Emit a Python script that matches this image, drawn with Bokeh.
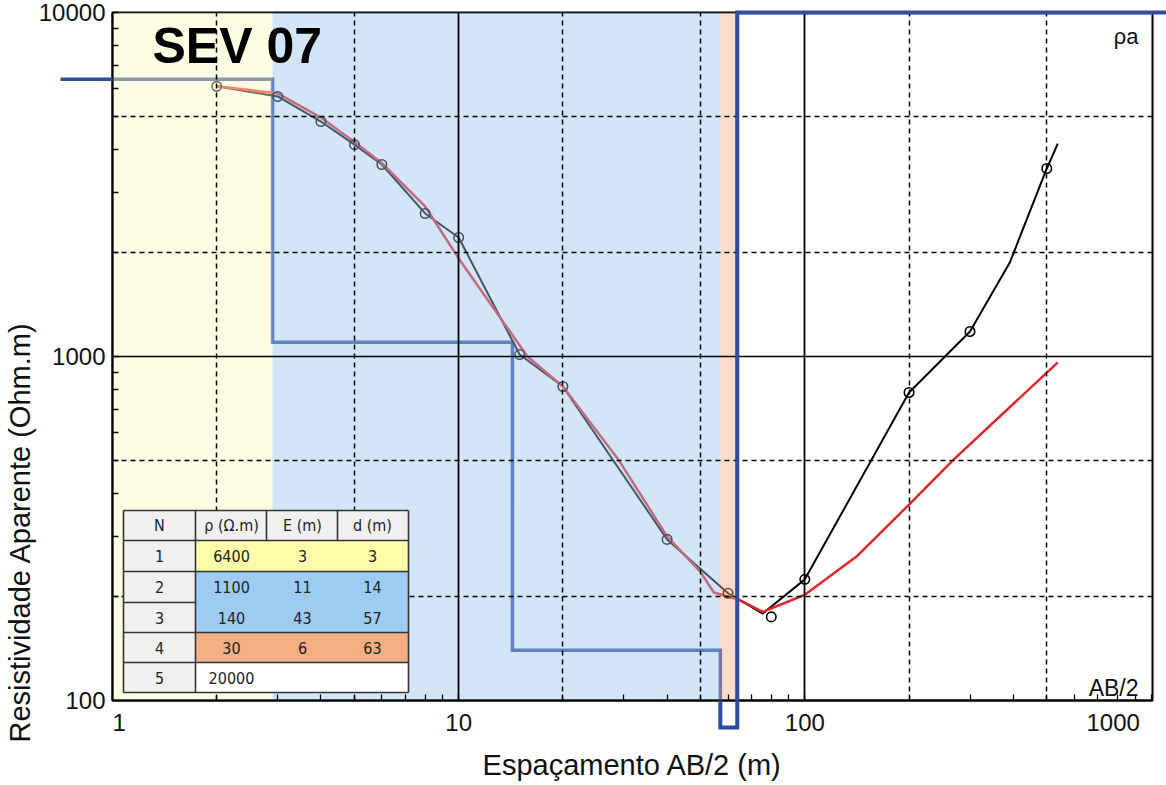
import numpy as np
from bokeh.plotting import figure
from bokeh.models import FixedTicker, Grid, Title, Range1d, ColumnDataSource
from bokeh.core.properties import value
from bokeh.embed import file_html
from bokeh.resources import INLINE

# ---------------- data ----------------
# field measurements: AB/2 (m) and apparent resistivity (Ohm.m)
ab2 = [2, 3, 4, 5, 6, 8, 10, 15, 20, 40, 60, 80, 100, 200, 300, 500]
rho_a = [6100, 5700, 4820, 4130, 3615, 2605, 2218, 1013, 818, 294, 205, 175, 225, 786, 1182, 3520]
# hand-drawn field curve (black)
field_x = [2, 3, 4, 5, 6, 8, 10, 15, 20, 40, 60, 75.6, 100, 200, 300, 391, 500, 538]
field_y = [6100, 5700, 4820, 4130, 3615, 2605, 2218, 1013, 818, 294, 205, 179, 225, 786, 1182, 1876, 3520, 4160]
# model (calculated) curve (red)
model_x = [2, 3, 4, 5, 6, 8, 10, 15.8, 20, 29, 40, 50, 54.6, 63.9, 75.6, 100, 141, 200, 268, 538]
model_y = [6100, 5820, 4950, 4200, 3650, 2730, 1928, 1000, 818, 500, 300, 236, 206, 197, 181, 203, 262, 371, 500, 961]
# layered model
layer_n = [1, 2, 3, 4, 5]
layer_rho = [6400, 1100, 140, 30, 20000]
layer_thk = [3, 11, 43, 6]
layer_depth = [3, 14, 57, 63]
# depths as drawn on the chart
model_depth = [2.9, 14.3, 57, 63.8]

# axis ticks
x_major = [1, 10, 100, 1000]
y_major = [100, 1000, 10000]
x_minor = [m * d for d in (1, 10, 100) for m in range(2, 10)]
y_minor = [m * d for d in (100, 1000) for m in range(2, 10)]
x_dash = [2, 5, 20, 50, 200, 500]
y_dash = [200, 500, 2000, 5000]

# ---------------- layout constants ----------------
W, H = 1166, 785
FL, FR, FT, FB = 112, 1152, 12, 700
X0, X1 = 1, 1010
Y0, Y1 = 100, 10000
LX = np.log10(X1) - np.log10(X0)
LY = np.log10(Y1) - np.log10(Y0)


def px_x(px):
    return 10 ** (np.log10(X0) + (px - FL) / (FR - FL) * LX)


def px_y(py):
    return 10 ** (np.log10(Y1) - (py - FT) / (FB - FT) * LY)


FONT = "Liberation Sans"
NARROW = "DejaVu Sans Condensed, Roboto Condensed, Roboto"

p = figure(width=W, height=H, x_axis_type="log", y_axis_type="log",
           x_range=Range1d(X0, X1), y_range=Range1d(Y0, Y1),
           output_backend="svg", toolbar_location=None,
           min_border_left=FL, min_border_right=W - FR,
           min_border_top=FT, min_border_bottom=H - FB,
           background_fill_color="white", border_fill_color="white")
p.outline_line_color = "black"
p.outline_line_width = 2
p.xgrid.grid_line_color = None
p.ygrid.grid_line_color = None

# ---------------- curves (drawn under the shading) ----------------
NAVY = "#2F4DA0"
# layered model step line (extends a little beyond the axes box, as in the original)
X_LO, X_HI, Y_LO = px_x(60), px_x(1166), px_y(727)
sx, sy = [X_LO], [layer_rho[0]]
for i, d in enumerate(model_depth):
    sx += [d, d]
    sy += [layer_rho[i], layer_rho[i + 1]]
sx.append(X_HI)
sy.append(layer_rho[-1])
sy = [min(max(v, Y_LO), Y1) for v in sy]
p.line(sx, sy, line_color=NAVY, line_width=3.5, line_join="miter")

p.line(field_x, field_y, line_color="black", line_width=2)
p.line(model_x, model_y, line_color="#E3262B", line_width=2.5)
p.scatter(ab2, rho_a, marker="circle", size=9.5, fill_alpha=0,
          line_color="black", line_width=1.6)

# ---------------- layer shading (semi-transparent over the curves) ----------------
shade = ColumnDataSource(dict(
    left=[X0, model_depth[0], model_depth[2]],
    right=[model_depth[0], model_depth[2], model_depth[3]],
    color=["#FDFABF", "#9AC7EC", "#F4B183"]))
p.quad(left="left", right="right", bottom=Y0, top=Y1, source=shade,
       fill_color="color", fill_alpha=0.44, line_alpha=0)

# parts of the model line outside the shading / beyond the axes box, drawn on top
head_x, head_y = [sx[0], X0], [sy[0], sy[0]]
tail_x = [model_depth[2]] + sx[6:]
tail_y = [Y0] + sy[6:]
p.line(head_x, head_y, line_color=NAVY, line_width=3.5, level="annotation")
p.line(tail_x, tail_y, line_color=NAVY, line_width=4, line_join="miter",
       level="annotation")

# ---------------- grid ----------------
p.add_layout(Grid(dimension=0, ticker=FixedTicker(ticks=[10, 100]), level="guide",
                  grid_line_color="black", grid_line_width=1.8))
p.add_layout(Grid(dimension=1, ticker=FixedTicker(ticks=[1000]), level="guide",
                  grid_line_color="black", grid_line_width=1.5))
p.add_layout(Grid(dimension=0, ticker=FixedTicker(ticks=x_dash), level="guide",
                  grid_line_color="black", grid_line_width=1.5, grid_line_dash="5 4"))
p.add_layout(Grid(dimension=1, ticker=FixedTicker(ticks=y_dash), level="guide",
                  grid_line_color="black", grid_line_width=1.5, grid_line_dash="5 4"))

# ---------------- axes ----------------
xa, ya = p.xaxis[0], p.yaxis[0]
xa.ticker = FixedTicker(ticks=x_major, minor_ticks=x_minor)
ya.ticker = FixedTicker(ticks=y_major, minor_ticks=y_minor)
NB = "\u00a0"
xa.major_label_overrides = {1: NB * 2 + "1", 10: "10", 100: "100", 1000: "1000" + NB * 4}
ya.major_label_overrides = {v: str(v) for v in y_major}
for ax in (xa, ya):
    ax.axis_line_color = "black"
    ax.axis_line_width = 2
    ax.major_tick_in = 6
    ax.major_tick_out = 0
    ax.minor_tick_in = 6
    ax.minor_tick_out = 0
    ax.major_tick_line_color = "black"
    ax.minor_tick_line_color = "black"
    ax.major_tick_line_width = 1.3
    ax.minor_tick_line_width = 1.3
    ax.major_label_text_font = FONT
    ax.major_label_text_font_size = "24px"
    ax.major_label_text_color = "#111111"
    ax.axis_label_text_font = FONT
    ax.axis_label_text_font_size = "29px"
    ax.axis_label_text_font_style = "normal"
    ax.axis_label_text_color = "#111111"
xa.axis_label = "Espaçamento AB/2 (m)"
xa.major_label_standoff = 8
xa.axis_label_standoff = 10
ya.major_label_standoff = 7
ya.major_label_orientation = "horizontal"
# y-axis title as a side title, so that it can sit lower along the axis
p.add_layout(Title(text="Resistividade Aparente (Ohm.m)", align="left", offset=-42,
                   text_font=FONT, text_font_size="29px", text_font_style="normal",
                   text_color="#111111", standoff=0), "left")

# ---------------- texts on the chart ----------------
p.text(x=[px_x(152)], y=[px_y(45)], text=["SEV 07"], text_font=value(FONT),
       text_font_style="bold", text_font_size="50px", text_color="black",
       text_baseline="middle", text_align="left", level="annotation")
p.text(x=[px_x(1138)], y=[px_y(36)], text=["ρa"], text_font=value(FONT),
       text_font_size="22px", text_color="#111111", text_baseline="middle",
       text_align="right", level="annotation")
p.text(x=[px_x(1138)], y=[px_y(687)], text=["AB/2"], text_font=value(FONT),
       text_font_size="23px", text_color="#111111", text_baseline="middle",
       text_align="right", level="annotation")

# ---------------- layer table ----------------
col_px = [123, 195, 266, 337, 408]
row_px = [510, 540, 571, 602, 632, 662, 692]
cx = [px_x(v) for v in col_px]
ry = [px_y(v) for v in row_px]
GRAY, YEL, BLU, ORA = "#F0F0F0", "#FEFBAA", "#9DCBF1", "#F4B084"
cells = ColumnDataSource(dict(
    left=[cx[0], cx[0], cx[1], cx[1], cx[1], cx[1]],
    right=[cx[4], cx[1], cx[4], cx[4], cx[4], cx[4]],
    top=[ry[0], ry[1], ry[1], ry[2], ry[4], ry[5]],
    bottom=[ry[1], ry[6], ry[2], ry[4], ry[5], ry[6]],
    color=[GRAY, GRAY, YEL, BLU, ORA, "white"]))
p.quad(left="left", right="right", top="top", bottom="bottom", source=cells,
       fill_color="color", line_alpha=0, level="annotation")
seg_x, seg_y = [], []
for r, c_end in [(0, 4), (1, 4), (2, 4), (3, 1), (4, 4), (5, 4), (6, 4)]:
    seg_x.append([cx[0], cx[c_end]])
    seg_y.append([ry[r], ry[r]])
for c, r_end in [(0, 6), (1, 6), (2, 1), (3, 1), (4, 6)]:
    seg_x.append([cx[c], cx[c]])
    seg_y.append([ry[0], ry[r_end]])
p.multi_line(seg_x, seg_y, line_color="#333333", line_width=1.6, level="annotation")

hdr = ["N", "ρ (Ω.m)", "E (m)", "d (m)"]
col_c = [159, 231, 302, 372]
row_c = [(row_px[i] + row_px[i + 1]) / 2 for i in range(6)]
tx, ty, tt = [], [], []
for j, h in enumerate(hdr):
    tx.append(px_x(col_c[j])); ty.append(px_y(row_c[0])); tt.append(h)
cols = [[str(n) for n in layer_n],
        [str(v) for v in layer_rho],
        [str(v) for v in layer_thk] + [""],
        [str(v) for v in layer_depth] + [""]]
for j, col in enumerate(cols):
    for i, s in enumerate(col):
        if s:
            tx.append(px_x(col_c[j])); ty.append(px_y(row_c[i + 1])); tt.append(s)
p.text(x=tx, y=ty, text=tt, text_font=value(NARROW), text_font_size="16px",
       text_color="#222222", text_align="center", text_baseline="middle",
       level="annotation")

open("out.html", "w").write(file_html(p, INLINE))
